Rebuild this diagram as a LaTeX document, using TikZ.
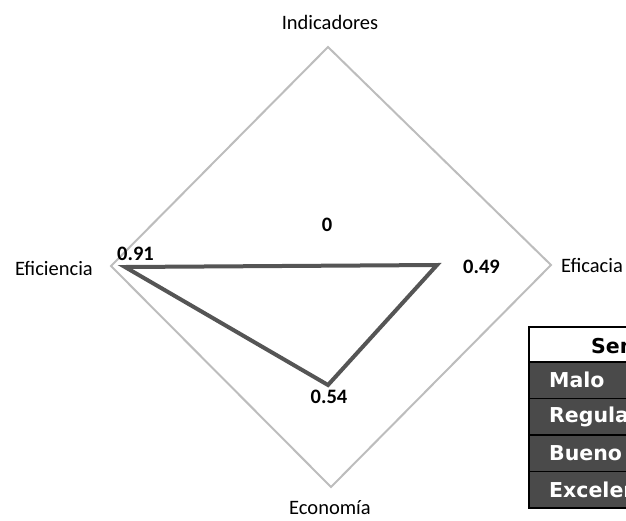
\documentclass[tikz,border=0pt]{standalone}
\usepackage{fontspec}
\setmainfont{Carlito}
\newfontfamily\tabfont{DejaVu Sans}
\definecolor{gridgray}{HTML}{BDBDBD}
\definecolor{seriesgray}{HTML}{555555}
\definecolor{cellgray}{HTML}{4A4A4A}
\tikzset{
  axislabel/.style={font=\fontsize{20.5}{24}\selectfont, inner sep=0pt},
  valuelabel/.style={font=\fontsize{20.5}{24}\selectfont\bfseries, inner sep=0pt},
  gridline/.style={draw=gridgray, line width=2pt, line join=miter},
  seriesline/.style={draw=seriesgray, line width=4pt, line join=miter},
  cellbox/.style={draw=black, line width=1.5pt, fill=cellgray},
  headbox/.style={draw=black, line width=1.5pt, fill=white},
  celltext/.style={font=\tabfont\fontsize{20.5}{24}\selectfont\bfseries, text=white, anchor=west, inner sep=0pt},
  headtext/.style={font=\tabfont\fontsize{20.5}{24}\selectfont\bfseries, text=black, anchor=west, inner sep=0pt}
}
\begin{document}
\begin{tikzpicture}[x=1pt, y=-1pt]
\useasboundingbox (0,0) rectangle (626,520);
\begin{scope}
\clip (0,0) rectangle (626,520);
% radar grid
\coordinate (gt) at (328,47);
\coordinate (gr) at (551,265);
\coordinate (gb) at (331,487);
\coordinate (gl) at (111,266);
\draw[gridline] (gt) -- (gr) -- (gb) -- (gl) -- cycle;
% series
\coordinate (pl) at (125,267);
\coordinate (pr) at (437,265);
\coordinate (pb) at (328,385);
\draw[seriesline] (pl) -- (pr) -- (pb) -- cycle;
% axis labels
\node[axislabel, anchor=base] (lind) at (330,29) {Indicadores};
\node[axislabel, anchor=base east] (lefi) at (93,275) {Eficiencia};
\node[axislabel, anchor=base west] (lefc) at (561,272) {Eficacia};
\node[axislabel, anchor=base] (leco) at (330,514) {Economía};
% value labels
\node[valuelabel, anchor=base] (v0) at (327,231) {0};
\node[valuelabel, anchor=base west] (v91) at (117,260) {0.91};
\node[valuelabel, anchor=base west] (v49) at (463,273) {0.49};
\node[valuelabel, anchor=base] (v54) at (329,403) {0.54};
% legend table
\path[headbox] (529,327) rectangle (700,362);
\path[cellbox] (529,362) rectangle (700,398.5);
\path[cellbox] (529,398.5) rectangle (700,435);
\path[cellbox] (529,435) rectangle (700,471.5);
\path[cellbox] (529,471.5) rectangle (700,508);
\node[headtext] (th) at (591,345) {Semáforo};
\node[celltext] (t1) at (549,380) {Malo};
\node[celltext] (t2) at (549,416.5) {Regular};
\node[celltext] (t3) at (549,453) {Bueno};
\node[celltext] (t4) at (549,489.5) {Excelente};
\end{scope}
\end{tikzpicture}
\end{document}
